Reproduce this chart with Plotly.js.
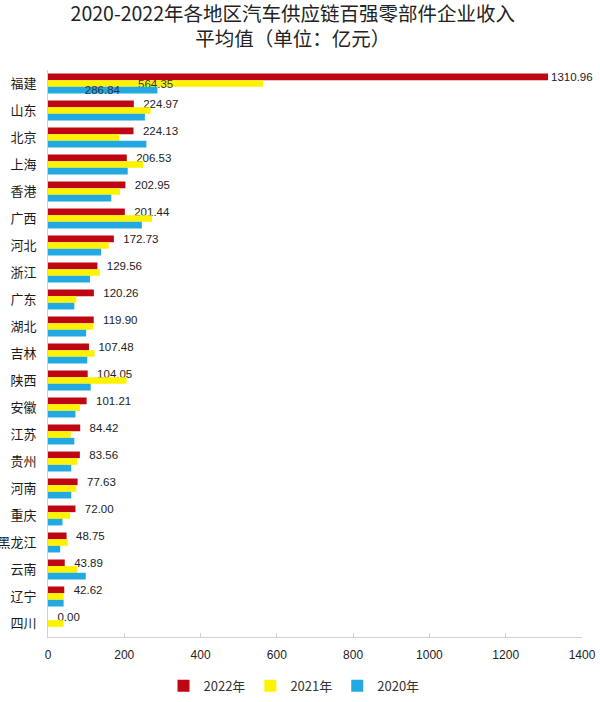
<!DOCTYPE html>
<html>
<head>
<meta charset="utf-8">
<script src="https://cdn.plot.ly/plotly-3.0.1.min.js"></script>
<style>html,body{margin:0;padding:0;background:#fff;}#chart{width:600px;height:702px;}</style>
</head>
<body>
<div id="chart"></div>
<script>
const categories = ['福建','山东','北京','上海','香港','广西','河北','浙江','广东','湖北','吉林','陕西','安徽','江苏','贵州','河南','重庆','黑龙江','云南','辽宁','四川'];
const v2022 = [1310.96,224.97,224.13,206.53,202.95,201.44,172.73,129.56,120.26,119.90,107.48,104.05,101.21,84.42,83.56,77.63,72.00,48.75,43.89,42.62,0.00];
const v2021 = [564.35,269,187,250,189,273,159,136,74,119,122,206,84,60,76,74,58,52,76,41,41];
const v2020 = [286.84,254,258,209,166,246,139,110,69,100,103,112,72,69,61,61,38,32,99,41,0];
const seriesNames = ['2022年','2021年','2020年'];
const xTicks = [0,200,400,600,800,1000,1200,1400];

const nb = '\u00a0\u00a0';
const text2022 = v2022.map((v,i) => (i === 0 ? '' : nb) + v.toFixed(2));
const text2021 = v2021.map((v,i) => i === 0 ? v.toFixed(2) : '');
const text2020 = v2020.map((v,i) => i === 0 ? v.toFixed(2) : '');

const labelFont = {family: 'Liberation Sans, Arial, sans-serif', size: 11.5, color: '#222'};

const traces = [
  {type:'bar', orientation:'h', name: seriesNames[0], y: categories, x: v2022,
   marker:{color:'#BE0712'}, text: text2022, textposition:'outside', constraintext:'none',
   cliponaxis:false, textfont: labelFont, hoverinfo:'x+y'},
  {type:'bar', orientation:'h', name: seriesNames[1], y: categories, x: v2021,
   marker:{color:'#FFF200'}, text: text2021, textposition:'inside', insidetextanchor:'middle',
   constraintext:'none', cliponaxis:false, textfont: {family: labelFont.family, size: 11.5, color:'#333'}},
  {type:'bar', orientation:'h', name: seriesNames[2], y: categories, x: v2020,
   marker:{color:'#23A9E1'}, text: text2020, textposition:'inside', insidetextanchor:'middle',
   constraintext:'none', cliponaxis:false, textfont: {family: labelFont.family, size: 11.5, color:'#26324f'}}
];

const layout = {
  width: 600, height: 702,
  margin: {l: 48, r: 18, t: 70, b: 65, autoexpand: false},
  paper_bgcolor: '#fff', plot_bgcolor: '#fff',
  barmode: 'group', bargap: 0.26, bargroupgap: 0,
  title: {
    text: '2020-2022年各地区汽车供应链百强零部件企业收入<br>平均值（单位：亿元）',
    font: {family: 'Noto Sans CJK SC, sans-serif', size: 19.5, color: '#222'},
    x: 0.488, xref: 'container', xanchor: 'center',
    y: 0.970, yref: 'container', yanchor: 'top'
  },
  xaxis: {
    range: [0, 1400], tickvals: xTicks, ticktext: xTicks.map(String),
    ticks: 'inside', ticklen: 4, tickcolor: '#d0d0d0',
    showline: true, linecolor: '#d0d0d0', linewidth: 1,
    showgrid: false, zeroline: false,
    tickfont: {family: 'Liberation Sans, Arial, sans-serif', size: 12, color: '#222'},
    ticklabelstandoff: 7, fixedrange: true, automargin: false
  },
  yaxis: {
    type: 'category', autorange: 'reversed',
    showline: true, linecolor: '#d0d0d0', linewidth: 1,
    showgrid: false, zeroline: false, ticks: '',
    tickfont: {family: 'Noto Sans CJK SC, sans-serif', size: 13, color: '#1a1a1a'},
    ticklabelstandoff: 8, fixedrange: true, automargin: false
  },
  showlegend: true,
  legend: {
    orientation: 'h', x: 0.49, xref: 'container', xanchor: 'center',
    y: 0.023, yref: 'container', yanchor: 'middle',
    traceorder: 'normal',
    font: {family: 'Noto Sans CJK SC, sans-serif', size: 13, color: '#333'},
    itemwidth: 30
  }
};

Plotly.newPlot('chart', traces, layout, {displayModeBar: false, staticPlot: true});
</script>
</body>
</html>
